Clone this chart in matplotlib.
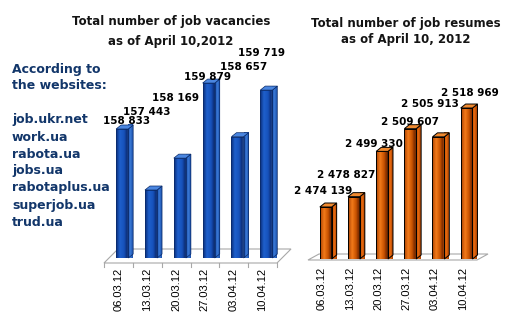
import numpy as np
import matplotlib
matplotlib.use("Agg")
import matplotlib.pyplot as plt
from matplotlib.patches import Polygon
from matplotlib.colors import LinearSegmentedColormap

W, H, DPI = 516, 322, 100

dates = ["06.03.12", "13.03.12", "20.03.12", "27.03.12", "03.04.12", "10.04.12"]
vacancies = [158833, 157443, 158169, 159879, 158657, 159719]
resumes = [2474139, 2478827, 2499330, 2509607, 2505913, 2518969]
websites = ["job.ukr.net", "work.ua", "rabota.ua", "jobs.ua",
            "rabotaplus.ua", "superjob.ua", "trud.ua"]


def fmt(v):
    return f"{v:,}".replace(",", " ")


def px_axes(fig, x0, y0, x1, y1):
    """Axes placed by pixel box (top-left origin)."""
    return fig.add_axes([x0 / W, 1 - y1 / H, (x1 - x0) / W, (y1 - y0) / H])


def fig_text(fig, x, y, s, **kw):
    fig.text(x / W, 1 - y / H, s, **kw)


BLUE = dict(
    front=LinearSegmentedColormap.from_list("bf", [
        (0.0, "#0a2c78"), (0.3, "#1f60cc"), (0.62, "#1752bc"),
        (0.88, "#0a2a72"), (1.0, "#6a9ae6")]),
    side=LinearSegmentedColormap.from_list("bs", [
        (0.0, "#1a50b0"), (0.5, "#3a7ad6"), (1.0, "#1a4ea8")]),
    top="#4a86e0", edge="#0a2a68", lw=0.5,
)
ORANGE = dict(
    front=LinearSegmentedColormap.from_list("of", [
        (0.0, "#a84000"), (0.35, "#f27a1a"), (0.68, "#c85200"),
        (0.9, "#7a2a00"), (1.0, "#d85a08")]),
    side=LinearSegmentedColormap.from_list("os", [
        (0.0, "#c04e00"), (0.5, "#e86a10"), (1.0, "#a84000")]),
    top="#f08a30", edge="black", lw=0.7,
)


def bar_chart(fig, box, values, base, top, style, floor, ticks):
    ax = px_axes(fig, *box)
    n = len(values)
    x = np.arange(n)
    ax.set_xlim(-0.5, n - 0.5)
    ax.set_ylim(base, top)
    ax.set_axis_off()

    wpx = box[2] - box[0]
    hpx = box[3] - box[1]
    ppx_x = n / wpx
    ppx_y = (top - base) / hpx

    # floor parallelogram
    f_drop, f_back, f_dx = floor
    fy0 = base - f_drop * ppx_y
    fy1 = base + f_back * ppx_y
    fdx = f_dx * ppx_x
    ax.add_patch(Polygon([(-0.5, fy0), (n - 0.5, fy0), (n - 0.5 + fdx, fy1),
                          (-0.5 + fdx, fy1)], closed=True, facecolor="white",
                         edgecolor="#a8a8a8", lw=0.8, clip_on=False, zorder=1))
    if ticks:
        for b in np.arange(-0.5, n, 1.0):
            ax.plot([b, b], [fy0, fy0 - 4 * ppx_y], color="#a8a8a8", lw=0.8,
                    clip_on=False, zorder=1)

    width, shift = 0.42, 0.13
    dx, dy = 5 * ppx_x, 4 * ppx_y
    grad = np.linspace(0, 1, 64).reshape(1, -1)
    bars = ax.bar(x + shift, np.array(values) - base, bottom=base, width=width,
                  color="none", edgecolor=style["edge"], lw=style["lw"], zorder=4)
    for b, v in zip(bars, values):
        x0 = b.get_x()
        x1 = x0 + b.get_width()
        im = ax.imshow(grad, extent=[x0, x1, base, v], aspect="auto",
                       cmap=style["front"], zorder=3)
        im.set_clip_path(b)
        side = Polygon([(x1, base), (x1, v), (x1 + dx, v + dy), (x1 + dx, base + dy)],
                       closed=True, facecolor="none", edgecolor=style["edge"],
                       lw=style["lw"], zorder=4, clip_on=False)
        ax.add_patch(side)
        ims = ax.imshow(grad, extent=[x1, x1 + dx, base, v + dy], aspect="auto",
                        cmap=style["side"], zorder=3, clip_on=False)
        ims.set_clip_path(side)
        ax.add_patch(Polygon([(x0, v), (x1, v), (x1 + dx, v + dy), (x0 + dx, v + dy)],
                             closed=True, facecolor=style["top"],
                             edgecolor=style["edge"], lw=style["lw"], zorder=4,
                             clip_on=False))
    ax.set_xlim(-0.5, n - 0.5)
    ax.set_ylim(base, top)
    return ax, x, fy0, ppx_y


fig = plt.figure(figsize=(W / DPI, H / DPI), dpi=DPI)
fig.patch.set_facecolor("white")

# left: vacancies
axl, xl, fyl, pyl = bar_chart(fig, (104, 40, 277, 258), vacancies, 155894, 160860,
                              BLUE, floor=(5, 9, 14), ticks=True)
# right: resumes
axr, xr, fyr, pyr = bar_chart(fig, (308, 40, 477, 259), resumes, 2450590, 2549775,
                              ORANGE, floor=(1, 5, 11), ticks=False)

for ax, xs, fy, py, pad in [(axl, xl, fyl, pyl, 5), (axr, xr, fyr, pyr, 7)]:
    for xi, d in zip(xs, dates):
        ax.text(xi, fy - pad * py, d, rotation=90, ha="center", va="top",
                fontsize=8, family="Liberation Sans", color="black", clip_on=False)

# value labels (centre x, baseline-ish y in pixels)
vac_lbl_pos = [(127, 121), (147, 112), (176, 98), (207, 77), (244, 67), (262, 53)]
res_lbl_pos = [(323, 191), (346, 175), (374, 144), (410, 122), (430, 104), (470, 93)]
for (px, py), v in zip(vac_lbl_pos, vacancies):
    fig_text(fig, px, py, fmt(v), ha="center", va="center", fontsize=7.5,
             fontweight="bold", color="black")
for (px, py), v in zip(res_lbl_pos, resumes):
    fig_text(fig, px, py, fmt(v), ha="center", va="center", fontsize=7.5,
             fontweight="bold", color="black")

# titles
fig_text(fig, 171, 22, "Total number of job vacancies", ha="center", va="center",
         fontsize=8.5, fontweight="bold", color="#141414")
fig_text(fig, 171, 41, "as of April 10,2012", ha="center", va="center",
         fontsize=8.5, fontweight="bold", color="#141414")
fig_text(fig, 406, 23, "Total number of job resumes", ha="center", va="center",
         fontsize=8.5, fontweight="bold", color="#141414")
fig_text(fig, 406, 39, "as of April 10, 2012", ha="center", va="center",
         fontsize=8.5, fontweight="bold", color="#141414")

navy = "#12366a"
fig_text(fig, 12, 69, "According to", ha="left", va="center", fontsize=9,
         fontweight="bold", color=navy)
fig_text(fig, 12, 86, "the websites:", ha="left", va="center", fontsize=9,
         fontweight="bold", color=navy)
for i, s in enumerate(websites):
    fig_text(fig, 12, 120 + 17 * i, s, ha="left", va="center", fontsize=9,
             fontweight="bold", color=navy)

fig.savefig("out.png", dpi=DPI, facecolor="white")
